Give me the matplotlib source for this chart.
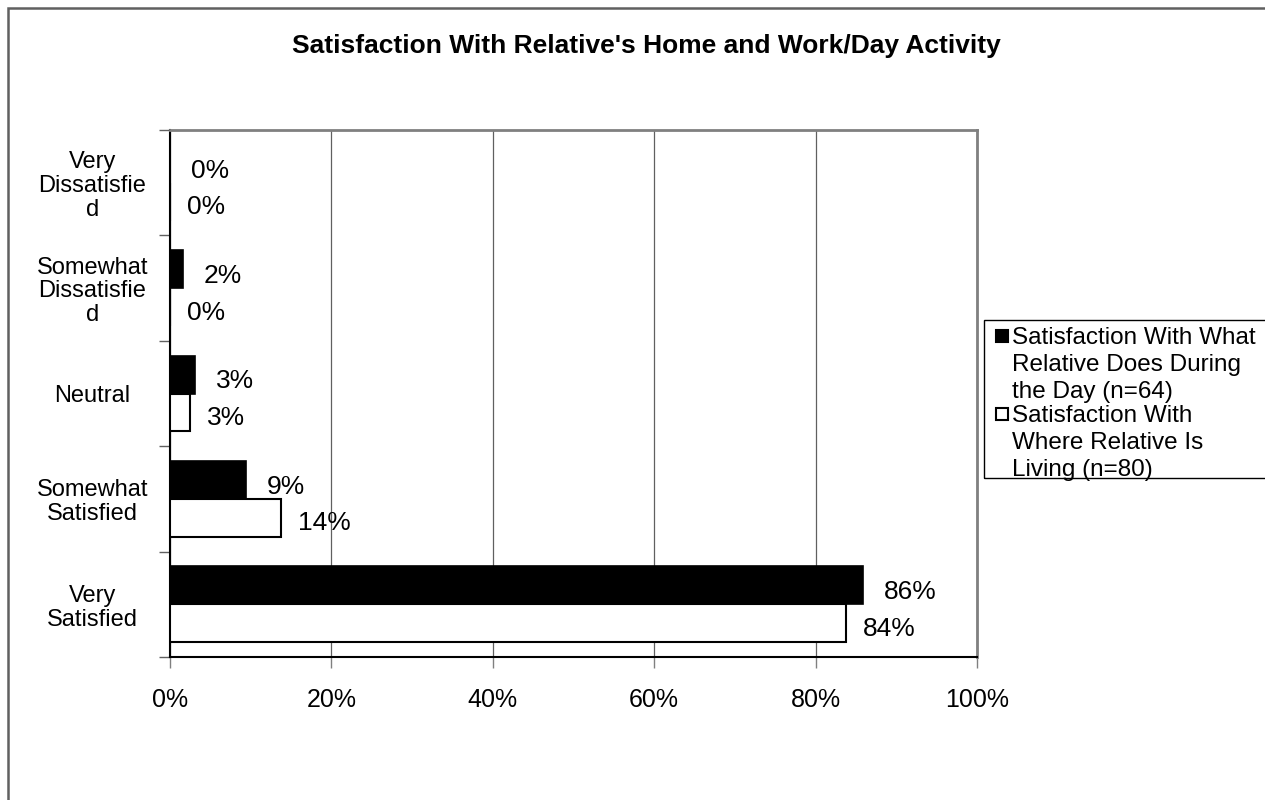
import matplotlib
matplotlib.use('Agg')
import matplotlib.pyplot as plt
from matplotlib.patches import Rectangle

plt.rcParams['font.family'] = ['Liberation Sans', 'DejaVu Sans']

# categories, top to bottom (wrapped the way the original chart wraps them)
categories = ['Very\nDissatisfie\nd', 'Somewhat\nDissatisfie\nd', 'Neutral',
              'Somewhat\nSatisfied', 'Very\nSatisfied']
day_values = [0.0, 1.6, 3.1, 9.4, 85.9]       # what relative does during the day
living_values = [0.0, 0.0, 2.5, 13.8, 83.8]   # where relative is living
day_labels = ['0%', '2%', '3%', '9%', '86%']
living_labels = ['0%', '0%', '3%', '14%', '84%']
series_names = ['Satisfaction With What\nRelative Does During\nthe Day (n=64)',
                'Satisfaction With\nWhere Relative Is\nLiving (n=80)']
x_ticks = [0, 20, 40, 60, 80, 100]

W, H = 1265, 800
fig = plt.figure(figsize=(W / 100, H / 100), dpi=100)

# outer chart frame (clipped by the image edge on the right and bottom)
fig.patches.append(Rectangle((8 / W, -0.1), 1.2, 1.1 - 8 / H, transform=fig.transFigure,
                             fill=False, edgecolor='#606060', linewidth=1.8))

ax = fig.add_axes([170 / W, 1 - 657 / H, 807 / W, 527 / H])

pos = list(range(len(categories)))
bh = 0.36
ax.barh([p - bh / 2 for p in pos], day_values, height=bh, color='black',
        edgecolor='black', linewidth=1.2, zorder=3)
ax.barh([p + bh / 2 for p in pos], living_values, height=bh, color='white',
        edgecolor='black', linewidth=1.5, zorder=3)

# data labels just past the end of each bar
for p, v, t in zip(pos, day_values, day_labels):
    ax.annotate(t, (v, p - bh / 2), xytext=(15, -5), textcoords='offset points',
                ha='left', va='center', fontsize=19)
for p, v, t in zip(pos, living_values, living_labels):
    ax.annotate(t, (v, p + bh / 2), xytext=(12, -4), textcoords='offset points',
                ha='left', va='center', fontsize=19)

ax.set_xlim(0, 100)
ax.set_ylim(len(categories) - 0.5, -0.5)
ax.set_xticks(x_ticks)
ax.set_xticklabels([f'{t}%' for t in x_ticks], fontsize=18)
ax.tick_params(axis='x', length=8, width=1, color='#808080', pad=14)

ax.set_yticks(pos)
ax.set_yticklabels(categories, fontsize=17, linespacing=1.1)
for lbl in ax.get_yticklabels():
    lbl.set_ha('center')
    lbl.set_multialignment('center')
ax.tick_params(axis='y', length=0, pad=56)
ax.set_yticks([p + 0.5 for p in range(-1, len(categories))], minor=True)
ax.tick_params(axis='y', which='minor', length=8, width=1, color='#606060')

ax.grid(axis='x', color='#606060', linewidth=0.9, zorder=0)
ax.set_axisbelow(True)
for s in ['top', 'right']:
    ax.spines[s].set_color('#808080')
    ax.spines[s].set_linewidth(2)
for s in ['left', 'bottom']:
    ax.spines[s].set_color('black')
    ax.spines[s].set_linewidth(1.5)

fig.text(646 / W, 1 - 46 / H, "Satisfaction With Relative's Home and Work/Day Activity",
         ha='center', va='center', fontsize=19, fontweight='bold')

# legend box, drawn by hand so the markers sit on the first line of each entry
fig.patches.append(Rectangle((984 / W, 1 - 478 / H), 0.3, 158 / H, transform=fig.transFigure,
                             fill=False, edgecolor='black', linewidth=1))
fills = ['black', 'white']
first_baselines = [344, 422]
pitch = 27
for name, fc, base in zip(series_names, fills, first_baselines):
    fig.patches.append(Rectangle((996 / W, 1 - (base - 2) / H), 12 / W, 12 / H,
                                 transform=fig.transFigure, facecolor=fc,
                                 edgecolor='black', linewidth=1.5))
    for i, line in enumerate(name.split('\n')):
        fig.text(1012 / W, 1 - (base + i * pitch) / H, line, ha='left',
                 va='baseline', fontsize=17.5)

fig.savefig('out.png', dpi=100)
